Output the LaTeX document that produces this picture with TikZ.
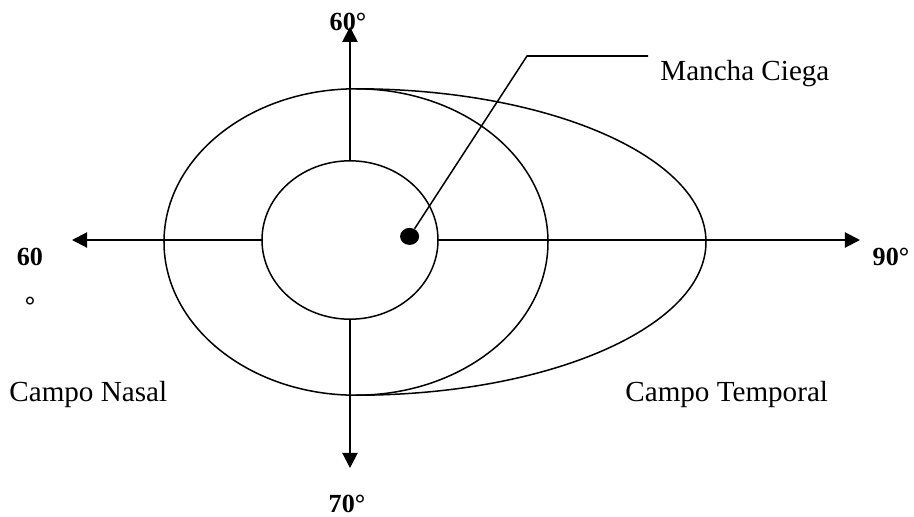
\documentclass[tikz,border=0pt]{standalone}
\usepackage{fontspec}
\setmainfont{Liberation Serif}
\usetikzlibrary{arrows.meta,shapes.geometric}

\tikzset{
  axis/.style={line width=1pt, -{Triangle[width=7.5pt,length=7.5pt]}},
  field/.style={line width=0.75pt},
  deglabel/.style={font=\fontsize{13}{15.6}\selectfont\bfseries, inner sep=0pt},
  fieldlabel/.style={font=\fontsize{14.5}{17}\selectfont, inner sep=0pt}
}

\begin{document}
\begin{tikzpicture}[scale=0.7]
  \useasboundingbox (-8.75,-6.9) rectangle (14.1,6);
  % campos visuales
  \draw[field] (0.15,-0.05) ellipse (4.8 and 3.83);
  \draw[field] (0.15,3.78) arc[start angle=90, end angle=-90, x radius=8.75, y radius=3.83];
  \draw[field] (0,0) ellipse (2.2 and 1.98);
  % ejes
  \coordinate (inW) at (-2.2,0);
  \coordinate (inE) at (2.2,0);
  \coordinate (inN) at (0,1.98);
  \coordinate (inS) at (0,-1.98);
  \coordinate (tipW) at (-6.95,0);
  \coordinate (tipE) at (12.75,0);
  \coordinate (tipN) at (0,5.33);
  \coordinate (tipS) at (0,-5.7);
  \draw[axis] (inW) -- (tipW);
  \draw[axis] (inE) -- (tipE);
  \draw[axis] (inN) -- (tipN);
  \draw[axis] (inS) -- (tipS);
  \node[deglabel, anchor=base] (top) at (-0.05,5.25) {60°};
  \node[deglabel, anchor=base] (bottom) at (-0.075,-6.8) {70°};
  \node[deglabel, anchor=base] (right) at (13.525,-0.625) {90°};
  \node[deglabel, anchor=base] (left) at (-8.0,-0.625) {60};
  \node[deglabel, anchor=base] (leftring) at (-8.0,-1.85) {°};
  % mancha ciega
  \node[fill, ellipse, minimum width=0.333cm, minimum height=0.298cm, inner sep=0pt] (spot) at (1.49,0.09) {};
  \coordinate (bend) at (4.425,4.6);
  \coordinate (tail) at (7.45,4.6);
  \draw[field] (spot) -- (bend) -- (tail);
  \node[fieldlabel, anchor=base west] (mancha) at (7.75,4.0) {Mancha Ciega};
  \node[fieldlabel, anchor=base west] (nasal) at (-8.525,-4.025) {Campo Nasal};
  \node[fieldlabel, anchor=base west] (temporal) at (6.875,-4.025) {Campo Temporal};
\end{tikzpicture}
\end{document}
